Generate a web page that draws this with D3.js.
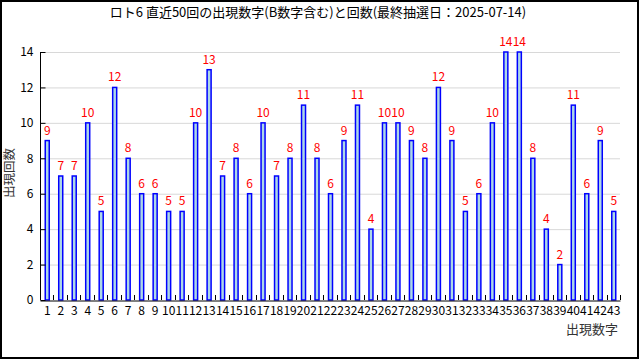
<!DOCTYPE html>
<html><head><meta charset="utf-8">
<script src="https://cdn.jsdelivr.net/npm/d3@7"></script>
<style>
html,body{margin:0;padding:0;background:#fff;}
svg{display:block;}
</style>
</head><body>
<svg id="c" width="640" height="360"></svg>
<script>
const titleText = "ロト6 直近50回の出現数字(B数字含む)と回数(最終抽選日：2025-07-14)";
const xTitle = "出現数字";
const yTitle = "出現回数";
const numbers = d3.range(1, 44);
const counts = [9,7,7,10,5,12,8,6,6,5,5,10,13,7,8,6,10,7,8,11,8,6,9,11,4,10,10,9,8,12,9,5,6,10,14,14,8,4,2,11,6,9,5];
const yTicks = [0,2,4,6,8,10,12,14];

const font = "'Noto Sans CJK JP', 'Liberation Sans', sans-serif";
const svg = d3.select("#c");
const W = 640, H = 360;
const m = {left:40, right:20, top:52, bottom:60};

svg.append("rect").attr("x",1).attr("y",1).attr("width",W-3).attr("height",H-3)
  .attr("fill","#fff").attr("stroke","#000").attr("stroke-width",2);

const x = d3.scaleBand().domain(numbers).range([m.left, W - m.right]).padding(0);
const y = d3.scaleLinear().domain([0,14]).range([H - m.bottom, m.top]);

// grid
svg.append("g").selectAll("line").data(yTicks.filter(d=>d>0)).join("line")
  .attr("x1", m.left).attr("x2", W - m.right)
  .attr("y1", d=>y(d)+0.5).attr("y2", d=>y(d)+0.5)
  .attr("stroke","#d8d8d8").attr("stroke-width",1);

// bars
const bw = 4;
svg.append("g").selectAll("rect").data(numbers).join("rect")
  .attr("x", (d)=> x(d) + x.bandwidth()/2 - bw/2 + 0.5)
  .attr("y", (d,i)=> y(counts[i]))
  .attr("width", bw)
  .attr("height", (d,i)=> y(0) - y(counts[i]))
  .attr("fill","#add8e6").attr("stroke","#0000ff").attr("stroke-width",1.5);

// value labels
svg.append("g").selectAll("text").data(numbers).join("text")
  .attr("x", d=> x(d) + x.bandwidth()/2 + 0.5)
  .attr("y", (d,i)=> y(counts[i]) - 6)
  .attr("text-anchor","middle")
  .attr("font-family", font).attr("font-size", 12)
  .attr("fill","#ff0000")
  .text((d,i)=>counts[i]);

// y axis
const yAxis = svg.append("g").attr("transform",`translate(${m.left+0.5},0)`)
  .call(d3.axisLeft(y).tickValues(yTicks).tickSize(-5).tickPadding(8));
yAxis.select(".domain").attr("stroke","#000").attr("d", `M0,${y(14)}V${y(0)}`);
yAxis.selectAll(".tick line").attr("stroke","#000");
yAxis.selectAll("text").attr("font-family",font).attr("font-size",12).attr("fill","#000")
  .attr("x",-7);

// x axis
const xAxis = svg.append("g").attr("transform",`translate(0,${y(0)+0.5})`)
  .call(d3.axisBottom(x).tickSize(0).tickPadding(6));
xAxis.select(".domain").attr("stroke","#000");
xAxis.selectAll("text").attr("font-family",font).attr("font-size",12).attr("fill","#000")
  .attr("dx","0.5");
// minor ticks at band boundaries (pointing up)
svg.append("g").selectAll("line").data(numbers).join("line")
  .attr("x1", d=> Math.round(x(d) + x.bandwidth()) + 0.5)
  .attr("x2", d=> Math.round(x(d) + x.bandwidth()) + 0.5)
  .attr("y1", y(0)).attr("y2", y(0) - 5)
  .attr("stroke","#000").attr("stroke-width",1);

// titles
svg.append("text").attr("x", 318).attr("y", 17).attr("text-anchor","middle")
  .attr("font-family",font).attr("font-size",13).attr("fill","#000").text(titleText);
svg.append("text").attr("x", W - m.right - 2).attr("y", 334).attr("text-anchor","end")
  .attr("font-family",font).attr("font-size",13).attr("fill","#333").text(xTitle);
svg.append("text").attr("transform","translate(14,173) rotate(-90)").attr("text-anchor","middle")
  .attr("font-family",font).attr("font-size",12.5).attr("fill","#333").text(yTitle);
</script>
</body></html>
